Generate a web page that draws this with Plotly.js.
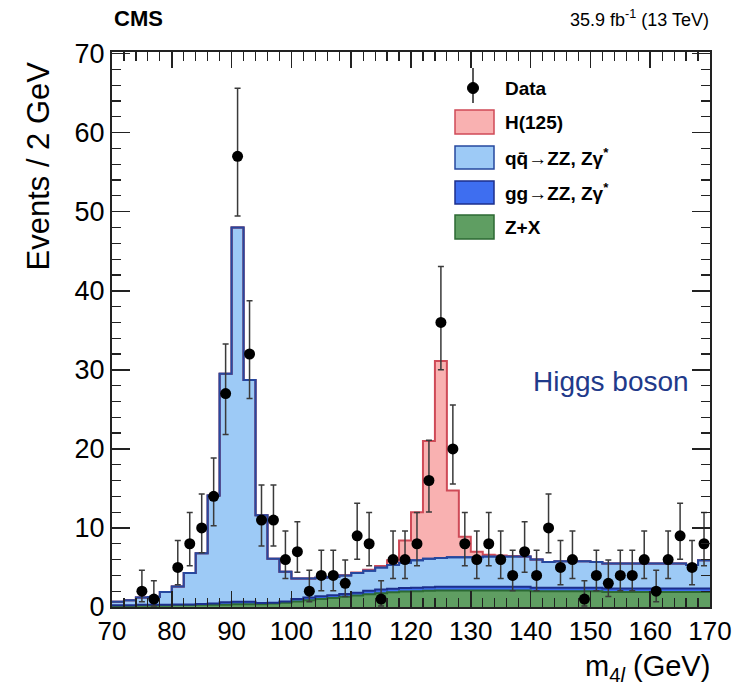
<!DOCTYPE html>
<html>
<head>
<meta charset="utf-8">
<script src="https://cdn.plot.ly/plotly-3.0.1.min.js"></script>
<style>html,body{margin:0;padding:0;background:#fff;}#chart{width:753px;height:689px;}</style>
</head>
<body>
<div id="chart"></div>
<script>
// ---- data (2 GeV bins, low edges) ----
const binLow = [70,72,74,76,78,80,82,84,86,88,90,92,94,96,98,100,102,104,106,108,110,112,114,116,118,120,122,124,126,128,130,132,134,136,138,140,142,144,146,148,150,152,154,156,158,160,162,164,166,168];
const binWidth = 2;
const dataCounts = [0,0,2,1,0,5,8,10,14,27,57,32,11,11,6,7,2,4,4,3,9,8,1,6,6,8,16,36,20,8,6,8,6,4,7,4,10,5,6,1,4,3,4,4,6,2,6,9,5,8];
const zx = [0.15,0.15,0.2,0.2,0.2,0.25,0.25,0.3,0.3,0.3,0.35,0.35,0.35,0.45,0.55,0.7,0.85,1.0,1.15,1.3,1.45,1.6,1.75,1.85,1.95,2.0,2.05,2.1,2.1,2.1,2.1,2.1,2.1,2.1,2.1,2.0,2.0,2.0,2.0,2.0,2.0,1.9,1.9,1.9,1.9,1.9,1.9,1.9,1.9,1.9];
const gg = [0.08,0.08,0.08,0.08,0.08,0.08,0.08,0.08,0.15,0.3,0.3,0.3,0.15,0.1,0.15,0.3,0.35,0.35,0.35,0.35,0.35,0.45,0.45,0.45,0.45,0.45,0.45,0.45,0.45,0.45,0.45,0.45,0.45,0.45,0.45,0.45,0.45,0.45,0.45,0.45,0.45,0.45,0.45,0.45,0.45,0.45,0.45,0.45,0.45,0.45];
const qq = [0.44,0.62,0.92,0.97,1.62,2.27,3.97,6.42,13.65,28.9,47.35,28.05,11.1,5.55,3.75,2.6,2.4,2.35,2.3,2.35,2.5,2.55,2.8,3.0,3.2,3.45,3.6,3.65,3.75,3.75,3.75,3.85,3.85,3.85,3.85,3.55,3.25,3.35,3.35,3.35,3.25,3.15,3.15,3.15,3.15,3.15,3.15,3.15,2.95,3.55];
const higgs = [0,0,0,0,0,0,0,0,0,0,0,0,0,0,0,0,0,0,0,0.03,0.05,0.1,0.2,0.6,2.8,6.1,14.9,24.9,8.45,2.6,0.7,0.2,0.1,0.05,0,0,0,0,0,0,0,0,0,0,0,0,0,0,0,0];
const legendLabels = ['Data','H(125)','q<span>q\u0304</span>\u2192ZZ, Z\u03b3<sup>*</sup>','gg\u2192ZZ, Z\u03b3<sup>*</sup>','Z+X'];
const xTicks = [70,80,90,100,110,120,130,140,150,160,170];

// ---- styles ----
const FONT = 'Liberation Sans, Arial, Helvetica, sans-serif';
const cols = {
  zx:{fill:'#5f9e62', line:'#2d6a33'},
  gg:{fill:'#3e6ef0', line:'#1c2f8c'},
  qq:{fill:'#9dcaf6', line:'#26489f'},
  h :{fill:'#f9b1b1', line:'#cf4a57'}
};

// ---- build stacked step outlines ----
const xEdges = binLow.concat([binLow[binLow.length-1] + binWidth]);
function cumsum(a, b){ return a.map((v,i)=>v + b[i]); }
function step(arr){ return arr.concat([arr[arr.length-1]]); }
const s1 = zx;
const s2 = cumsum(s1, gg);
const s3 = cumsum(s2, qq);
const s4 = cumsum(s3, higgs);

function stackTrace(y, c, fill){
  return {x:xEdges, y:step(y), type:'scatter', mode:'lines',
    line:{shape:'hv', color:c.line, width:2}, fill:fill, fillcolor:c.fill,
    hoverinfo:'skip', showlegend:false};
}

const centers = binLow.map(v=>v + binWidth/2);
const yData = dataCounts.map(n=> n>0 ? n : null);
const errUp = dataCounts.map(n=> n>0 ? 1 + Math.sqrt(n + 0.75) : 0);
const errDn = dataCounts.map(n=> n>0 ? Math.sqrt(n - 0.25) : 0);

const traces = [
  stackTrace(s1, cols.zx, 'tozeroy'),
  stackTrace(s2, cols.gg, 'tonexty'),
  stackTrace(s3, cols.qq, 'tonexty'),
  stackTrace(s4, cols.h, 'tonexty'),
  // qq outline redrawn over the H outline (stacked outlines as in ROOT)
  {x:xEdges, y:step(s3), type:'scatter', mode:'lines', line:{shape:'hv', color:cols.qq.line, width:2},
   hoverinfo:'skip', showlegend:false},
  {x:centers, y:yData, type:'scatter', mode:'markers',
   marker:{color:'#000', size:11},
   error_y:{type:'data', symmetric:false, array:errUp, arrayminus:errDn, color:'#3a3a3a', thickness:1.5, width:3},
   showlegend:false, hoverinfo:'skip'}
];

// ---- plot geometry helpers (paper coords) ----
const L=112, R=710, T=52, B=607;
const px = x => (x - L)/(R - L);
const py = y => (B - y)/(B - T);

// manual legend
const sw = [{c:cols.h, y0:110, y1:134},{c:cols.qq, y0:146, y1:169},{c:cols.gg, y0:181, y1:204},{c:cols.zx, y0:215, y1:239}];
const shapes = [];
sw.forEach(s=>{
  shapes.push({type:'rect', xref:'paper', yref:'paper', x0:px(455), x1:px(494), y0:py(s.y1), y1:py(s.y0),
    fillcolor:s.c.fill, line:{color:s.c.line, width:1.5}});
});
shapes.push({type:'line', xref:'paper', yref:'paper', x0:px(473), x1:px(473), y0:py(103), y1:py(68), line:{color:'#222', width:1.5}});
shapes.push({type:'circle', xref:'paper', yref:'paper', xsizemode:'pixel', ysizemode:'pixel', xanchor:px(473), yanchor:py(88), x0:-5.5, x1:5.5, y0:-5.5, y1:5.5, fillcolor:'#000', line:{color:'#000', width:1}});

const legY = [88,122,157.5,192.5,227];
const annotations = legendLabels.map((t,i)=>({
  xref:'paper', yref:'paper', x:px(503), y:py(legY[i]), xanchor:'left', yanchor:'middle',
  text:'<b>'+t+'</b>', showarrow:false, font:{family:FONT, size:19, color:'#000'}
}));
annotations.push(
  {xref:'paper', yref:'paper', x:px(112), y:py(19), xanchor:'left', yanchor:'middle', text:'<b>CMS</b>', showarrow:false, font:{family:FONT, size:22, color:'#000'}},
  {xref:'paper', yref:'paper', x:px(711), y:py(19), xanchor:'right', yanchor:'middle', text:'35.9 fb<sup>-1</sup> (13 TeV)', showarrow:false, font:{family:FONT, size:18, color:'#000'}},
  {xref:'paper', yref:'paper', x:px(611), y:py(382), xanchor:'center', yanchor:'middle', text:'Higgs boson', showarrow:false, font:{family:FONT, size:28, color:'#1f3a8a'}},
  {xref:'paper', yref:'paper', x:px(38), y:py(60), xanchor:'center', yanchor:'top', textangle:-90, text:'Events / 2 GeV', showarrow:false, font:{family:FONT, size:31, color:'#000'}},
  {xref:'paper', yref:'paper', x:px(712), y:py(668), xanchor:'right', yanchor:'middle', text:'m<sub>4<i>l</i></sub> (GeV)', showarrow:false, font:{family:FONT, size:29, color:'#000'}}
);

const layout = {
  width:753, height:689,
  margin:{l:L, r:753-R, t:T, b:689-B, pad:0},
  paper_bgcolor:'#fff', plot_bgcolor:'#fff',
  showlegend:false,
  font:{family:FONT, color:'#000'},
  xaxis:{range:[70,170], tickvals:xTicks, ticks:'inside', ticklen:16, tickwidth:1.5, tickcolor:'#222',
    mirror:'allticks', showline:true, linewidth:2, linecolor:'#222', showgrid:false, zeroline:false,
    tickfont:{family:FONT, size:26, color:'#000'},
    minor:{ticks:'inside', dtick:2, tick0:70, ticklen:9, tickwidth:1.2, tickcolor:'#222', showgrid:false}},
  yaxis:{range:[0,70.2], dtick:10, tick0:0, ticks:'inside', ticklen:18, tickwidth:1.5, tickcolor:'#222',
    mirror:'allticks', showline:true, linewidth:2, linecolor:'#222', showgrid:false, zeroline:false,
    tickfont:{family:FONT, size:27, color:'#000'},
    minor:{ticks:'inside', dtick:2, tick0:0, ticklen:9, tickwidth:1.2, tickcolor:'#222', showgrid:false}},
  shapes:shapes,
  annotations:annotations
};

Plotly.newPlot('chart', traces, layout, {displayModeBar:false, staticPlot:true});
</script>
</body>
</html>
